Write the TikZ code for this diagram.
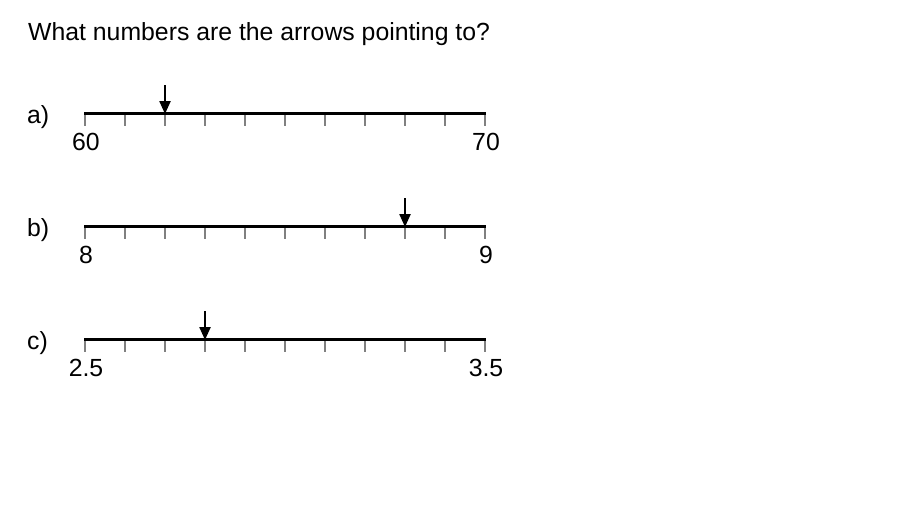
\documentclass[tikz,border=0pt]{standalone}
\usepackage{fontspec}
\setmainfont{Liberation Sans}
\usetikzlibrary{arrows.meta}
\begin{document}
\begin{tikzpicture}[x=1pt,y=-1pt,
  txt/.style={inner sep=0pt,font=\fontsize{24.8}{28}\selectfont},
  numline/.style={line width=3pt},
  tick/.style={draw=black!50,line width=1.3pt},
  pointer/.style={line width=2.3pt,-{Triangle[length=13pt,width=11pt]}}]
\useasboundingbox[fill=white] (0,0) rectangle (920,520);
\node[txt,anchor=base west] (title) at (28,40) {What numbers are the arrows pointing to?};
\foreach \r/\y/\lo/\hi/\ax in {a/113/60/70/165, b/226/8/9/405, c/339/2.5/3.5/205}{
  \node[txt,anchor=base west] (lab\r) at (27,\y+10) {\r)};
  \coordinate (s\r) at (84,\y);
  \coordinate (e\r) at (486,\y);
  \foreach \i in {0,...,10}{
    \coordinate (t\r\i) at (85+40*\i,\y);
    \coordinate (u\r\i) at (85+40*\i,\y+13);
    \draw[tick] (t\r\i) -- (u\r\i);
  }
  \draw[numline] (s\r) -- (e\r);
  \node[txt,anchor=base] (lo\r) at (86,\y+37) {\lo};
  \node[txt,anchor=base] (hi\r) at (486,\y+37) {\hi};
  \coordinate (p\r) at (\ax,\y-28);
  \coordinate (q\r) at (\ax,\y+1);
  \draw[pointer] (p\r) -- (q\r);
}
\end{tikzpicture}
\end{document}
